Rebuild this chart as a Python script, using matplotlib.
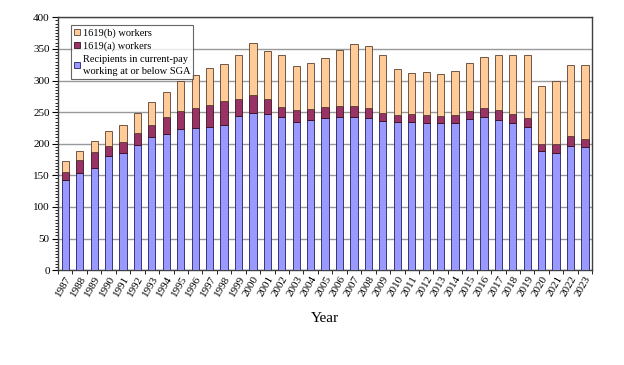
import matplotlib
matplotlib.use('Agg')
import matplotlib.pyplot as plt
from matplotlib.ticker import MultipleLocator
import numpy as np

# --- data (thousands) ---
years = list(range(1987, 2024))
recipients = [142, 153, 162, 181, 186, 198, 210, 216, 223, 225, 227, 229, 244, 249,
              247, 242, 235, 237, 240, 242, 242, 240, 236, 234, 235, 233, 232, 232,
              239, 242, 238, 232, 226, 188, 186, 197, 195]
totals_a = [156, 174, 187, 196, 202, 217, 229, 242, 251, 256, 262, 267, 271, 277,
            270, 258, 253, 255, 258, 260, 259, 257, 249, 245, 247, 245, 244, 245,
            251, 257, 253, 247, 241, 200, 200, 212, 208]
totals = [173, 189, 205, 220, 229, 249, 266, 282, 299, 308, 319, 326, 340, 360,
          346, 340, 323, 327, 336, 349, 357, 355, 340, 318, 312, 313, 311, 315,
          327, 337, 341, 341, 341, 292, 299, 324, 324]

rec = np.array(recipients)
a = np.array(totals_a) - rec
b = np.array(totals) - np.array(totals_a)

plt.rcParams['font.family'] = ['Liberation Serif', 'DejaVu Serif']

fig = plt.figure(figsize=(6.24, 3.65), dpi=100)
ax = fig.add_axes([0.093, 0.26, 0.856, 0.6926])

x = np.arange(len(years))
w = 0.5
ax.bar(x, rec, w, color='#9999FF', edgecolor='#1f1f5f', linewidth=0.6,
       label='Recipients in current-pay\nworking at or below SGA', zorder=3)
ax.bar(x, a, w, bottom=rec, color='#993366', edgecolor='#3a1020', linewidth=0.6,
       label='1619(a) workers', zorder=3)
ax.bar(x, b, w, bottom=rec + a, color='#FFCC99', edgecolor='#5a4030', linewidth=0.6,
       label='1619(b) workers', zorder=3)

ax.set_xlim(-0.5, len(years) - 0.5)
ax.set_ylim(0, 400)
ax.yaxis.set_major_locator(MultipleLocator(50))
ax.yaxis.set_minor_locator(MultipleLocator(5))
ax.grid(axis='y', color='#999999', linewidth=1.0, zorder=0)

ax.set_xticks(x)
ax.set_xticklabels([str(y) for y in years], rotation=60, ha='right',
                   rotation_mode='anchor', fontsize=8)
ax.set_xticks(np.arange(-0.5, len(years)), minor=True)
ax.tick_params(axis='x', which='major', length=0, pad=3)
ax.tick_params(axis='x', which='minor', length=3, direction='out')
ax.tick_params(axis='y', which='major', length=4, labelsize=8, direction='out', pad=2)
ax.tick_params(axis='y', which='minor', length=2, direction='out')

for s in ax.spines.values():
    s.set_color('#404040')
    s.set_linewidth(1.0)

ax.set_xlabel('Year', fontsize=11, labelpad=10)

h, l = ax.get_legend_handles_labels()
leg = ax.legend(h[::-1], l[::-1], loc='upper left', fontsize=7.5,
                frameon=True, fancybox=False, edgecolor='#404040',
                handlelength=0.55, handleheight=0.55, handletextpad=0.3,
                borderpad=0.3, labelspacing=0.35,
                bbox_to_anchor=(0.014, 0.99))
for t in leg.get_texts():
    t.set_linespacing(1.45)
leg.get_frame().set_linewidth(0.8)

fig.savefig('out.png', dpi=100)
